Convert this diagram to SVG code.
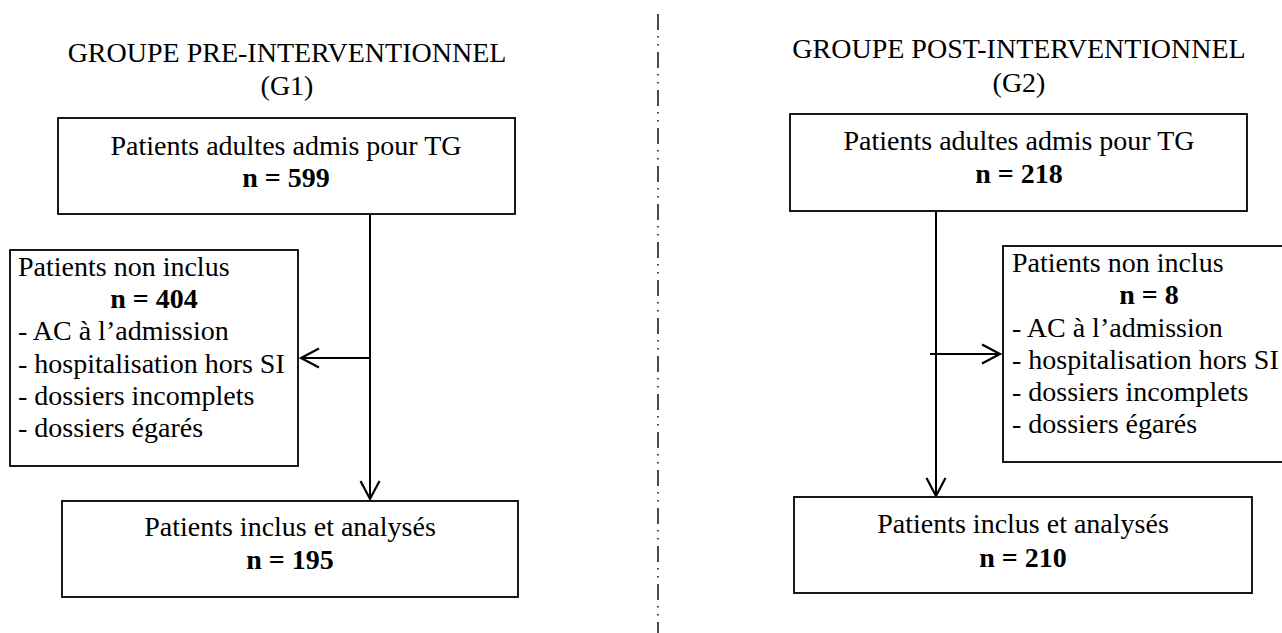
<svg xmlns="http://www.w3.org/2000/svg" width="1282" height="633" viewBox="0 0 1282 633">
<style>
text{font-family:"Liberation Serif","Times New Roman",serif;font-size:28px;fill:#000}
.c{text-anchor:middle}
.b{font-weight:bold}
.box{fill:#fff;stroke:#000;stroke-width:1.8}
.ln{stroke:#000;stroke-width:2;fill:none}
</style>
<defs>
<marker id="ah" markerWidth="24" markerHeight="24" refX="20" refY="12" orient="auto" markerUnits="userSpaceOnUse">
<path d="M2,2.5 L20,12 L2,21.5" fill="none" stroke="#000" stroke-width="2.2"/>
</marker>
</defs>
<rect width="1282" height="633" fill="#fff"/>
<line x1="658" y1="14" x2="658" y2="633" stroke="#000" stroke-width="1.4" stroke-dasharray="16 6 1.5 6.5 1.5 6.5"/>
<g id="title-g1">
<text class="c" x="287" y="62">GROUPE PRE-INTERVENTIONNEL</text>
<text class="c" x="287" y="95">(G1)</text>
</g>
<g id="title-g2">
<text class="c" x="1019" y="58">GROUPE POST-INTERVENTIONNEL</text>
<text class="c" x="1019" y="92">(G2)</text>
</g>
<g id="connectors">
<line class="ln" x1="370" y1="214" x2="370" y2="499" marker-end="url(#ah)"/>
<line class="ln" x1="370" y1="358" x2="301" y2="358" marker-end="url(#ah)"/>
<line class="ln" x1="936" y1="211" x2="936" y2="496" marker-end="url(#ah)"/>
<line class="ln" x1="930" y1="354" x2="1000" y2="354" marker-end="url(#ah)"/>
</g>
<g id="g1-admis">
<rect class="box" x="58" y="118" width="457" height="96"/>
<text class="c" x="286" y="155">Patients adultes admis pour TG</text>
<text class="c b" x="286" y="187">n = 599</text>
</g>
<g id="g1-exclus">
<rect class="box" x="10" y="250" width="288" height="216"/>
<text x="18" y="276">Patients non inclus</text>
<text class="c b" x="154" y="308">n = 404</text>
<text x="18" y="340">- AC à l’admission</text>
<text x="18" y="373">- hospitalisation hors SI</text>
<text x="18" y="405">- dossiers incomplets</text>
<text x="18" y="437">- dossiers égarés</text>
</g>
<g id="g1-inclus">
<rect class="box" x="62" y="501" width="456" height="96"/>
<text class="c" x="290" y="536">Patients inclus et analysés</text>
<text class="c b" x="290" y="569">n = 195</text>
</g>
<g id="g2-admis">
<rect class="box" x="790" y="114" width="457" height="97"/>
<text class="c" x="1019" y="150">Patients adultes admis pour TG</text>
<text class="c b" x="1019" y="183">n = 218</text>
</g>
<g id="g2-exclus">
<rect class="box" x="1003" y="246" width="290" height="216"/>
<text x="1012" y="272">Patients non inclus</text>
<text class="c b" x="1149" y="304">n = 8</text>
<text x="1012" y="337">- AC à l’admission</text>
<text x="1012" y="369">- hospitalisation hors SI</text>
<text x="1012" y="401">- dossiers incomplets</text>
<text x="1012" y="433">- dossiers égarés</text>
</g>
<g id="g2-inclus">
<rect class="box" x="794" y="497" width="458" height="96"/>
<text class="c" x="1023" y="533">Patients inclus et analysés</text>
<text class="c b" x="1023" y="567">n = 210</text>
</g>
</svg>
